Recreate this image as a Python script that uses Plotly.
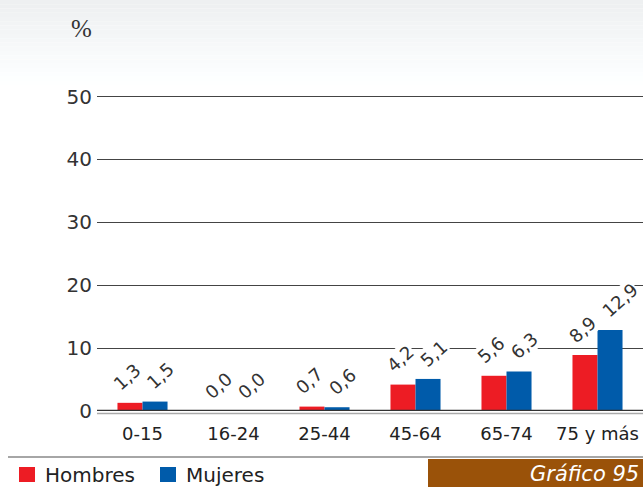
import plotly.graph_objects as go

categories = ["0-15", "16-24", "25-44", "45-64", "65-74", "75 y más"]
hombres = [1.3, 0.0, 0.7, 4.2, 5.6, 8.9]
mujeres = [1.5, 0.0, 0.6, 5.1, 6.3, 12.9]
hombres_lbl = ["1,3", "0,0", "0,7", "4,2", "5,6", "8,9"]
mujeres_lbl = ["1,5", "0,0", "0,6", "5,1", "6,3", "12,9"]
y_ticks = [0, 10, 20, 30, 40, 50]
series_names = ["Hombres", "Mujeres"]

RED = "#ED1C24"
BLUE = "#005BAA"
FONT = "DejaVu Sans"

fig = go.Figure()
fig.add_trace(go.Bar(x=categories, y=hombres, name=series_names[0], marker_color=RED,
                     marker_line_width=0, showlegend=False))
fig.add_trace(go.Bar(x=categories, y=mujeres, name=series_names[1], marker_color=BLUE,
                     marker_line_width=0, showlegend=False))

W, H = 643, 487
L, R, T, B = 97, 0, 84, 76
pw, ph = W - L - R, H - T - B

def px_x(p):
    return (p - L) / pw

def px_y(p):
    return (H - B - p) / ph

annotations = []
for i, c in enumerate(categories):
    for vals, lbls, xs in ((hombres, hombres_lbl, -15), (mujeres, mujeres_lbl, 18)):
        extra = 4 * (len(lbls[i]) - 3)
        annotations.append(dict(
            x=c, y=vals[i], xref="x", yref="y", text=lbls[i], showarrow=False,
            textangle=-42, xanchor="center", yanchor="bottom", xshift=xs + extra, yshift=7,
            font=dict(family=FONT, size=18, color="#333333"), bgcolor="white",
            borderpad=0))

annotations.append(dict(x=px_x(94), y=px_y(29), xref="paper", yref="paper", text="%",
                        showarrow=False, xanchor="right", yanchor="middle",
                        font=dict(family="Liberation Serif", size=25, color="#333333")))
annotations.append(dict(x=px_x(641), y=px_y(474), xref="paper", yref="paper",
                        text="<i>Gráfico 95</i>", showarrow=False, xanchor="right",
                        yanchor="middle", font=dict(family=FONT, size=21, color="white")))

shapes = []
# top gradient
n = 20
for k in range(n):
    y0 = 85 * k / n
    y1 = 85 * (k + 1) / n
    t = k / n
    g = int(238 + (255 - 238) * t)
    col = f"rgb({g},{min(255, g + 2)},{min(255, g + 3)})"
    shapes.append(dict(type="rect", xref="paper", yref="paper", x0=px_x(0), x1=px_x(W),
                       y0=px_y(y1), y1=px_y(y0), fillcolor=col, line_width=0, layer="below"))
# baseline
shapes.append(dict(type="line", xref="paper", yref="y", x0=0, x1=1, y0=0, y1=0,
                   line=dict(color="#333333", width=2.5)))
shapes.append(dict(type="line", xref="paper", yref="paper", x0=0, x1=1,
                   y0=px_y(413.5), y1=px_y(413.5), line=dict(color="#aaaaaa", width=1.5)))
# bottom separator
shapes.append(dict(type="line", xref="paper", yref="paper", x0=px_x(8), x1=px_x(W),
                   y0=px_y(457), y1=px_y(457), line=dict(color="#888888", width=1.5)))
# brown box
shapes.append(dict(type="rect", xref="paper", yref="paper", x0=px_x(428), x1=px_x(W + 5),
                   y0=px_y(490), y1=px_y(459), fillcolor="#9A5209", line_width=0))

# custom legend
for (name, col, sx) in ((series_names[0], RED, 19), (series_names[1], BLUE, 160)):
    shapes.append(dict(type="rect", xref="paper", yref="paper", x0=px_x(sx), x1=px_x(sx + 16),
                       y0=px_y(482), y1=px_y(467), fillcolor=col, line_width=0))
    annotations.append(dict(x=px_x(sx + 24), y=px_y(475), xref="paper", yref="paper",
                            text=name, showarrow=False, xanchor="left", yanchor="middle",
                            font=dict(family=FONT, size=20, color="#222222")))

fig.update_layout(
    width=W, height=H,
    margin=dict(l=L, r=R, t=T, b=B, pad=0),
    paper_bgcolor="white", plot_bgcolor="rgba(0,0,0,0)",
    barmode="group", bargap=0.45, bargroupgap=0,
    font=dict(family=FONT, color="#333333"),
    xaxis=dict(tickfont=dict(size=18, color="#222222"), showgrid=False, zeroline=False,
               showline=False, ticks="", fixedrange=True, ticklabelstandoff=10),
    yaxis=dict(range=[0, 52], tickvals=y_ticks, ticktext=[str(v) for v in y_ticks],
               tickfont=dict(size=20, color="#333333"), showgrid=True,
               gridcolor="#444444", gridwidth=1, zeroline=False, showline=False,
               ticks="", ticklabelstandoff=4, fixedrange=True),
    showlegend=False,
    annotations=annotations, shapes=shapes,
)

fig.write_html("out.html", config={"displayModeBar": False},
               post_script="document.body.style.margin='0';document.body.style.overflow='hidden';")
